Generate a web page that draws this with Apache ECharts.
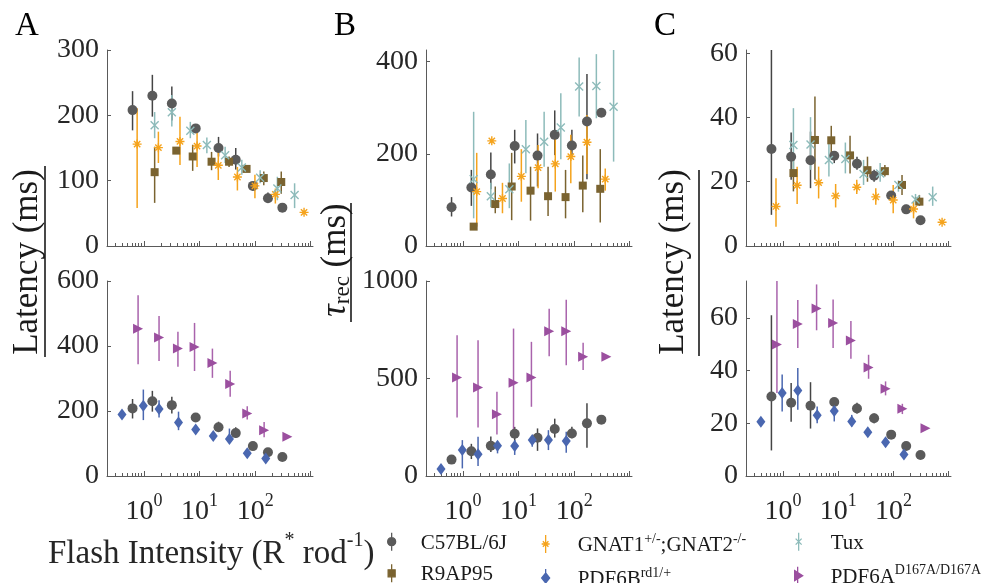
<!DOCTYPE html>
<html><head><meta charset="utf-8">
<script src="https://cdn.jsdelivr.net/npm/echarts@6/dist/echarts.min.js"></script>
<style>html,body{margin:0;padding:0;background:#fff}#c{width:1001px;height:583px}</style>
</head><body><div id="c"></div>
<script>
// ---------- DATA ----------
// Flash intensities (R* rod^-1) per genotype
const c57X   = [0.62, 1.41, 3.16, 8.5, 21.9, 44.7, 91, 170, 309];
const r9X    = [1.55, 3.8, 7.5, 16.4, 33.9, 70, 143, 295];
const gnatX  = [0.75, 1.81, 4.43, 9.0, 21.7, 47.9, 99, 231, 759];
const gnatXB = [1.76, 3.29, 5.12, 11.2, 22.4, 45.7, 87, 170, 363];
const tuxX   = [1.55, 3.16, 6.8, 13.5, 28.8, 57.5, 123, 251, 513];
const pdf6bX = [0.40, 0.97, 1.86, 4.17, 8.5, 17.6, 34.4, 72, 155];
const pdf6aX = [0.78, 1.86, 4.07, 8.1, 17, 35.5, 72, 145, 380];

// Panel A: latency (ms)
const c57LatA    = [208, 230, 218, 180, 150, 132, 92, 73, 58.7];
const c57LatAErr = [[177,237],[198,262],[192,244],[174,186],[137,167],[117,150],[85,98],[66,82],[55,62]];
const r9LatA     = [113, 146, 137, 129, 129, 118, 104, 98];
const r9LatAErr  = [[66,152],[142,150],[115,155],[116,144],[121,137],[114,121],[93,114],[80,114]];
const gnatLatA   = [156, 150.5, 160, 153, 123.5, 105.6, 92, 79, 51.5];
const gnatLatAErr= [[58,211],[127,175],[124,198],[121,180],[101,147],[85,121],[73,109],[65,88],[49,54]];
const tuxLatA    = [185, 204.6, 176.5, 154.6, 138.8, 120, 104.6, 88, 78];
const tuxLatAErr = [[165,205],[183,231],[165,190],[142,166],[127,152],[109,132],[96,116],[70,106],[58,96]];
const pdf6bLatA  = [189, 216, 206, 165, 143, 123, 114, 70, 54];
const pdf6bLatAErr=[[186,192],[172,266],[180,233],[141,198],[131,156],[110,133],[102,146],[57,80],[50,58]];
const pdf6aLatA  = [453, 426, 392, 397, 348, 283, 192, 141, 121];
const pdf6aLatAErr=[[344,556],[354,492],[336,444],[323,471],[302,392],[244,324],[174,215],[119,166],null];

// Panel B: tau_rec (ms)
const c57TauB    = [84, 127, 155, 217, 196, 241, 218, 270, 289];
const c57TauBErr = [[64,106],[87,165],[123,203],[179,252],[129,244],[197,294],[194,252],[145,373],[283,295]];
const r9TauB     = [42, 91, 129, 120, 108, 106, 131, 124];
const r9TauBErr  = [null,[71,129],[56,202],[55,172],[65,172],[60,165],[73,196],[51,210]];
const gnatTauB   = [118, 228, 103, 151, 170, 178, 194, 225, 145];
const gnatTauBErr= [[42,202],null,[71,137],[96,210],[125,219],[118,237],[136,241],[156,284],[120,168]];
const tuxTauB    = [145, 108, 123, 210, 226, 257, 346, 347, 302];
const tuxTauBErr = [[60,291],[84,137],[82,179],[158,273],[172,291],[188,331],[281,409],[277,416],[183,425]];
const pdf6bTauB  = [36, 133, 111, 155, 154, 184, 184, 179];
const pdf6bTauBErr=[null,[39,184],[51,201],[116,176],[108,184],[150,205],[133,235],[119,227]];
const pdf6aTauB  = [505, 454, 317, 478, 505, 742, 742, 611, 611];
const pdf6aTauBErr=[[300,722],[249,696],[213,432],[222,756],[355,688],[614,858],[568,904],[543,683],null];

// Panel C: latency (ms)
const c57LatC    = [30.2, 27.8, 26.7, 28.1, 25.6, 21.9, 15.7, 11.4, 8.0];
const c57LatCErr = [[9.7,61],[20.6,35.3],[18,35.6],[25.8,29.4],[23.7,27.8],[20,23.7],[14.8,16.6],[10.2,12.8],[7.3,8.7]];
const r9LatC     = [22.7, 33.0, 32.9, 28.2, 23.6, 23.3, 19.0, 13.8];
const r9LatCErr  = [[17,27],[20.6,46.5],[28.9,37.4],[22.6,34.3],[20,27.8],[21.6,25.2],[15.9,22.1],[12.5,15.9]];
const gnatLatC   = [12.3, 18.9, 19.7, 15.6, 18.3, 15.3, 14.3, 11.5, 7.4];
const gnatLatCErr= [[6,21.1],[13.1,24.7],[14.8,24.7],[12,19.3],[16.2,20.6],[12.8,18],[10.2,19],[8.6,13.8],[7,7.8]];
const tuxLatC    = [31.4, 31.6, 26.8, 27.1, 22.4, 22.6, 19.0, 14.5, 15.2];
const tuxLatCErr = [[22.1,42.9],[23.7,40.1],[21.6,32],[22.6,32.2],[19,26.8],[20,25.8],[16.9,20.4],[12.8,16.2],[12.5,18.5]];
const pdf6bLatC  = [20.6, 31.5, 32.4, 23.1, 24.7, 20.7, 16.6, 12.8, 8.2];
const pdf6bLatCErr=[null,[24.5,38.5],[25.1,41],[20,26.4],[20.7,28.3],[18.8,23.2],[15,18.1],[11.2,14.3],[7.6,8.8]];
const pdf6aLatC  = [49.9, 57.7, 63.6, 58.1, 51.4, 41.2, 33.1, 25.5, 18.1];
const pdf6aLatCErr=[[31.5,74],[48.6,66.8],[55.3,72.7],[48.6,67],[44.5,58.8],[36.9,46],[30.6,35.9],[23.5,27.4],null];

// Axes
const xMin = 0.215, xMax = 1100;
const xMajorTicks = [1, 10, 100, 1000];
const xMinorTicks = [0.3,0.4,0.5,0.6,0.7,0.8,0.9, 2,3,4,5,6,7,8,9, 20,30,40,50,60,70,80,90, 200,300,400,500,600,700,800,900];
const xTickLabels = [1, 10, 100];
const yMaxes = [300, 600, 425, 1000, 61, 74];
const yTickLabels = [[0,100,200,300],[0,200,400,600],[0,200,400],[0,500,1000],[0,20,40,60],[0,20,40,60]];

// Names
const N_C57 = 'C57BL/6J', N_R9 = 'R9AP95', N_GNAT = 'GNAT1+/-;GNAT2-/-', N_TUX = 'Tux',
      N_6B = 'PDF6B rd1/+', N_6A = 'PDF6A D167A/D167A';

// ---------- STYLE ----------
const FONT = 'Liberation Serif';
const AXIS_COLOR = '#5a5a5a';
const TEXT_COLOR = '#262626';
const styles = {};
styles[N_C57] = {symbol:'circle', size:10, color:'#5a5a5a', err:'#454545', bw:0,
  icon:'path://M4,0L4,18M0,9A4,4,0,1,1,8,9A4,4,0,1,1,0,9Z'};
styles[N_R9] = {symbol:'rect', size:8, color:'#7a6330', err:'#7a6330', bw:0,
  icon:'path://M4,0L4,18M0.5,5.5L7.5,5.5L7.5,12.5L0.5,12.5Z'};
styles[N_GNAT] = {symbol:'path://M0,5L10,5M5,0L5,10M1.5,1.5L8.5,8.5M1.5,8.5L8.5,1.5', size:9, color:'#f5a31c', err:'#f5a31c', bw:1.4,
  icon:'path://M4,0L4,18M0,9L8,9M1.2,6.2L6.8,11.8M1.2,11.8L6.8,6.2'};
styles[N_TUX] = {symbol:'path://M0,0L10,10M0,10L10,0', size:8, color:'#8dbbba', err:'#8dbbba', bw:1.4,
  icon:'path://M4,0L4,18M1,6L7,12M1,12L7,6M0,9L0,9M8,9L8,9'};
styles[N_6B] = {symbol:'diamond', size:[9,12], color:'#4a67b0', err:'#4a67b0', bw:0,
  icon:'path://M4,0L4,18M4,4L8,9L4,14L0,9Z'};
styles[N_6A] = {symbol:'path://M0,0L10,5L0,10Z', size:10, color:'#9b4f9f', err:'#a963ac', bw:0,
  icon:'path://M3,0L3,18M0,4L8,9L0,14Z'};

const panelSeries = [
  [[N_C57,c57X,c57LatA,c57LatAErr],[N_R9,r9X,r9LatA,r9LatAErr],[N_GNAT,gnatX,gnatLatA,gnatLatAErr],[N_TUX,tuxX,tuxLatA,tuxLatAErr]],
  [[N_C57,c57X,c57LatA,c57LatAErr],[N_6B,pdf6bX,pdf6bLatA,pdf6bLatAErr],[N_6A,pdf6aX,pdf6aLatA,pdf6aLatAErr]],
  [[N_C57,c57X,c57TauB,c57TauBErr],[N_R9,r9X,r9TauB,r9TauBErr],[N_GNAT,gnatXB,gnatTauB,gnatTauBErr],[N_TUX,tuxX,tuxTauB,tuxTauBErr]],
  [[N_C57,c57X,c57TauB,c57TauBErr],[N_6B,pdf6bX,pdf6bTauB,pdf6bTauBErr],[N_6A,pdf6aX,pdf6aTauB,pdf6aTauBErr]],
  [[N_C57,c57X,c57LatC,c57LatCErr],[N_R9,r9X,r9LatC,r9LatCErr],[N_GNAT,gnatX,gnatLatC,gnatLatCErr],[N_TUX,tuxX,tuxLatC,tuxLatCErr]],
  [[N_C57,c57X,c57LatC,c57LatCErr],[N_6B,pdf6bX,pdf6bLatC,pdf6bLatCErr],[N_6A,pdf6aX,pdf6aLatC,pdf6aLatCErr]]
];

const grids = [
  {left:107, top:50,  width:206, height:196},
  {left:107, top:281, width:206, height:195},
  {left:426, top:50,  width:206, height:196},
  {left:426, top:281, width:206, height:195},
  {left:746, top:50,  width:205, height:196},
  {left:746, top:281, width:205, height:195}
];

const xAxes = [], xMinorAxes = [], yAxes = [];
grids.forEach((gr, g) => {
  const bottom = g % 2 === 1;
  xAxes.push({
    type:'log', logBase:10, gridIndex:g, min:xMin, max:xMax, position:'bottom',
    axisLine:{show:true, onZero:false, lineStyle:{color:AXIS_COLOR, width:1}},
    axisTick:{show:true, inside:true, length:5, customValues:xMajorTicks, lineStyle:{color:AXIS_COLOR, width:1}},
    axisLabel:{show:bottom, customValues:xTickLabels, margin:16, color:TEXT_COLOR,
      formatter: v => '{b|10}{s|' + Math.round(Math.log10(v)) + '}',
      rich:{ b:{fontFamily:FONT, fontSize:28, lineHeight:34, verticalAlign:'bottom', color:TEXT_COLOR},
             s:{fontFamily:FONT, fontSize:18, lineHeight:18, verticalAlign:'top', color:TEXT_COLOR} }},
    splitLine:{show:false}, minorTick:{show:false}, minorSplitLine:{show:false}
  });
  xMinorAxes.push({
    type:'log', logBase:10, gridIndex:g, min:xMin, max:xMax, position:'bottom',
    axisLine:{show:false},
    axisTick:{show:true, inside:true, length:3, customValues:xMinorTicks, lineStyle:{color:AXIS_COLOR, width:1}},
    axisLabel:{show:false}, splitLine:{show:false}
  });
  yAxes.push({
    type:'value', gridIndex:g, min:0, max:yMaxes[g], position:'left',
    axisLine:{show:true, onZero:false, lineStyle:{color:AXIS_COLOR, width:1}},
    axisTick:{show:true, inside:true, length:4, customValues:yTickLabels[g], lineStyle:{color:AXIS_COLOR}},
    axisLabel:{customValues:yTickLabels[g], fontFamily:FONT, fontSize:28, color:TEXT_COLOR, margin:8,
      formatter: v => String(v)},
    splitLine:{show:false}
  });
});

const scatterSeries = [], errSeries = [];
panelSeries.forEach((list, g) => {
  list.forEach(([name, xs, ys, errs]) => {
    const st = styles[name];
    const pts = [], bars = [];
    xs.forEach((x, i) => {
      if (ys[i] == null) return;
      pts.push([x, ys[i]]);
      if (errs[i]) bars.push([x, errs[i][0], errs[i][1]]);
    });
    scatterSeries.push({
      type:'scatter', name, xAxisIndex:g, yAxisIndex:g, data:pts,
      symbol:st.symbol, symbolSize:st.size, silent:true, z:3,
      itemStyle:{color:st.color, borderColor:st.color, borderWidth:st.bw, opacity:1}
    });
    errSeries.push({
      type:'custom', name, xAxisIndex:g, yAxisIndex:g, data:bars, z:2, silent:true, clip:true,
      encode:{x:0, y:[1,2]},
      renderItem:(params, api) => {
        const p1 = api.coord([api.value(0), api.value(1)]);
        const p2 = api.coord([api.value(0), api.value(2)]);
        return {type:'line', shape:{x1:p1[0], y1:p1[1], x2:p2[0], y2:p2[1]},
                style:{stroke:st.err, lineWidth:1.5}};
      }
    });
  });
});

const legendRich = (gap) => ({
  g:{width:gap},
  n:{fontFamily:FONT, fontSize:21, lineHeight:24, verticalAlign:'bottom', color:'#1a1a1a'},
  s:{fontFamily:FONT, fontSize:14, lineHeight:14, verticalAlign:'top', color:'#1a1a1a'}
});
const legendLabel = {};
legendLabel[N_C57] = '{g| }{n|C57BL/6J}';
legendLabel[N_R9] = '{g| }{n|R9AP95}';
legendLabel[N_GNAT] = '{g| }{n|GNAT1}{s|+/-}{n|;GNAT2}{s|-/-}';
legendLabel[N_TUX] = '{g| }{n|Tux}';
legendLabel[N_6B] = '{g| }{n|PDF6B}{s|rd1/+}';
legendLabel[N_6A] = '{g| }{n|PDF6A}{s|D167A/D167A}';
const legendItem = name => ({name, icon:styles[name].icon,
  itemStyle:{color:styles[name].color, borderColor:styles[name].color, borderWidth:1.3}});
const makeLegend = (names, left, gap) => ({
  orient:'vertical', left, top:532, width:260, height:90, padding:0, itemGap:10, itemWidth:8, itemHeight:18,
  data:names.map(legendItem), selectedMode:false,
  formatter: n => legendLabel[n],
  textStyle:{rich:legendRich(gap)}
});

const option = {
  animation:false,
  backgroundColor:'#ffffff',
  grid: grids,
  xAxis: xAxes.concat(xMinorAxes),
  yAxis: yAxes,
  legend: [makeLegend([N_C57, N_R9], 387, 20), makeLegend([N_GNAT, N_6B], 541, 23), makeLegend([N_TUX, N_6A], 794, 23)],
  series: scatterSeries.concat(errSeries),
  graphic: [
    {type:'text', x:15, y:26, style:{text:'A', font:'33px "Liberation Serif"', fill:'#000', textVerticalAlign:'middle'}},
    {type:'text', x:334, y:26, style:{text:'B', font:'33px "Liberation Serif"', fill:'#000', textVerticalAlign:'middle'}},
    {type:'text', x:654, y:26, style:{text:'C', font:'33px "Liberation Serif"', fill:'#000', textVerticalAlign:'middle'}},
    {type:'text', x:28, y:262, rotation:Math.PI/2, style:{text:'Latency (ms)', font:'35px "Liberation Serif"', fill:'#1a1a1a', textAlign:'center', textVerticalAlign:'middle'}},
    {type:'line', shape:{x1:45, y1:166, x2:45, y2:357}, style:{stroke:'#1a1a1a', lineWidth:1.6}},
    {type:'text', x:336, y:260, rotation:Math.PI/2, style:{text:'{t|τ}{r|rec}{n| (ms)}', textAlign:'center', textVerticalAlign:'middle',
      rich:{t:{fontFamily:FONT, fontStyle:'italic', fontSize:35, lineHeight:36, verticalAlign:'top', fill:'#1a1a1a'},
            r:{fontFamily:FONT, fontSize:23, lineHeight:23, verticalAlign:'bottom', fill:'#1a1a1a'},
            n:{fontFamily:FONT, fontSize:35, lineHeight:36, verticalAlign:'top', fill:'#1a1a1a'}}}},
    {type:'line', shape:{x1:351, y1:203, x2:351, y2:322}, style:{stroke:'#1a1a1a', lineWidth:1.6}},
    {type:'text', x:674, y:262, rotation:Math.PI/2, style:{text:'Latency (ms)', font:'35px "Liberation Serif"', fill:'#1a1a1a', textAlign:'center', textVerticalAlign:'middle'}},
    {type:'line', shape:{x1:699, y1:170, x2:699, y2:356}, style:{stroke:'#1a1a1a', lineWidth:1.6}},
    {type:'text', x:48, y:551, style:{text:'{n|Flash Intensity (R}{s|*}{n| rod}{s|-1}{n|)}', textVerticalAlign:'middle',
      rich:{n:{fontFamily:FONT, fontSize:33, lineHeight:40, verticalAlign:'bottom', fill:'#262626'},
            s:{fontFamily:FONT, fontSize:20, lineHeight:20, verticalAlign:'top', fill:'#262626'}}}}
  ]
};

const chart = echarts.init(document.getElementById('c'), null, {renderer:'canvas'});
chart.setOption(option);
</script></body></html>
